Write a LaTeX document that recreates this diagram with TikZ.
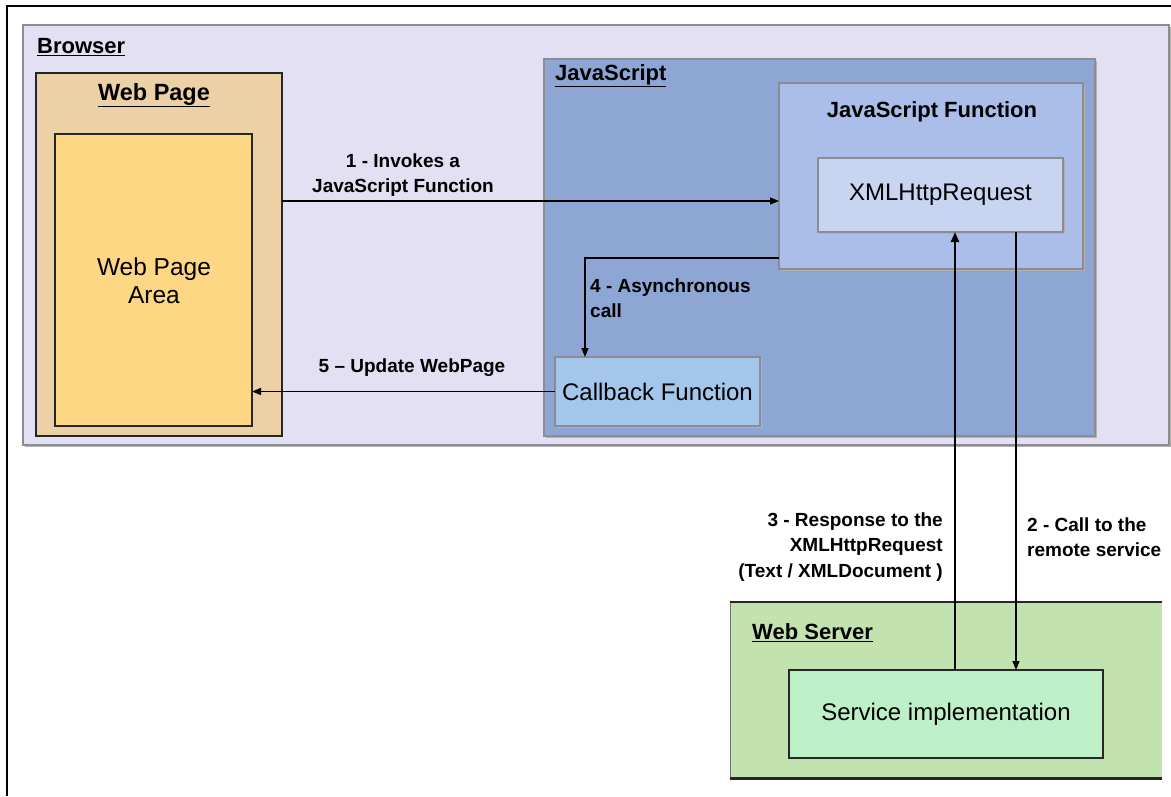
\documentclass[tikz,border=0pt]{standalone}
\usepackage{fontspec}
\setmainfont{Liberation Sans}
\usetikzlibrary{arrows.meta,shadows,calc}

\definecolor{browserfill}{RGB}{226,224,242}
\definecolor{pagefill}{RGB}{235,209,165}
\definecolor{areafill}{RGB}{253,215,131}
\definecolor{jsfill}{RGB}{141,166,211}
\definecolor{jsffill}{RGB}{171,190,233}
\definecolor{xhrfill}{RGB}{200,213,241}
\definecolor{cbfill}{RGB}{163,198,234}
\definecolor{srvfill}{RGB}{194,226,176}
\definecolor{implfill}{RGB}{189,240,198}
\definecolor{edgegray}{RGB}{140,140,150}

\tikzset{
  box/.style={rectangle, anchor=north west, inner sep=0pt, outer sep=0pt},
  softbox/.style={box, draw=edgegray, line width=1.3pt,
    drop shadow={shadow xshift=2pt, shadow yshift=-2pt, fill=black!30, opacity=1}},
  hardbox/.style={box, draw=black!85, line width=1.6pt},
  header/.style={anchor=west, inner sep=0pt, font=\fontsize{22}{26}\selectfont\bfseries},
  content/.style={font=\fontsize{24}{28}\selectfont},
  lbl/.style={inner sep=0pt, font=\fontsize{19}{25.5}\selectfont\bfseries},
  arr/.style={line width=1.2pt, -{Triangle[length=9pt,width=7pt]}},
  thickarr/.style={line width=2.2pt, -{Triangle[length=10pt,width=8pt]}}
}

\begin{document}
\begin{tikzpicture}[x=1pt, y=-1pt]
  \useasboundingbox (0,0) rectangle (1171,796);
  \fill[white] (0,0) rectangle (1171,796);

  % outer frame (continues past the right and bottom edges)
  \coordinate (frameTR) at (1171,6);
  \coordinate (frameTL) at (7,6);
  \coordinate (frameBL) at (7,796);
  \draw[line width=2pt] (frameTR) -- (frameTL) -- (frameBL);

  % browser container
  \node[softbox, fill=browserfill, minimum width=1146pt, minimum height=420pt] (browser) at (23,25) {};
  \node[header] (browserlbl) at (37,47) {\underline{Browser}};

  % web page
  \node[hardbox, fill=pagefill, minimum width=246pt, minimum height=363pt] (wp) at (36,73) {};
  \node[header, anchor=center, font=\fontsize{23.5}{28}\selectfont\bfseries] (wplbl) at (154,95) {\underline{Web Page}};
  \node[hardbox, fill=areafill, minimum width=197pt, minimum height=292pt] (wpa) at (55,134) {};
  \node[content, align=center, font=\fontsize{24.5}{28}\selectfont] (wpatext) at (154,281) {Web Page\\Area};

  % JavaScript container
  \node[softbox, fill=jsfill, minimum width=551pt, minimum height=377pt] (js) at (544,59) {};
  \node[header] (jslbl) at (555,76) {\underline{JavaScript}};

  % JavaScript function with the request object
  \node[softbox, fill=jsffill, minimum width=304pt, minimum height=186pt] (jsf) at (779,83) {};
  \node[header, anchor=center] (jsflbl) at (932,112) {JavaScript Function};
  \node[softbox, fill=xhrfill, minimum width=245pt, minimum height=74pt] (xhr) at (818,158) {};
  \node[content] (xhrtext) at (xhr.center) {XMLHttpRequest};

  % callback
  \node[softbox, fill=cbfill, minimum width=205pt, minimum height=69pt] (cb) at (555,357) {};
  \node[content] (cbtext) at (cb.center) {Callback Function};

  % web server
  \node[box, fill=srvfill, minimum width=432pt, minimum height=176pt] (srv) at (730,602) {};
  \draw[black!55, line width=1pt] (srv.south west) -- (srv.north west);
  \draw[black!85, line width=1.3pt] (srv.north west) -- (srv.north east);
  \draw[black!85, line width=3pt] (srv.south west) -- (srv.south east);
  \node[header] (srvlbl) at (752,633) {\underline{Web Server}};
  \node[box, fill=implfill, draw=black!85, line width=1.3pt, minimum width=314pt, minimum height=88pt] (impl) at (789,670) {};
  \node[content] (impltext) at (impl.center) {Service implementation};

  % helper coordinates for connector rows and columns
  \coordinate (row1) at (0,201);
  \coordinate (col2) at (1016,0);
  \coordinate (col3) at (955,0);
  \coordinate (col4) at (585,0);
  \coordinate (turn4) at ($(jsf.south west)+(0,-11)$);

  % 1 - invoke
  \draw[arr] (wp.east |- row1) -- (jsf.west |- row1);
  \node[lbl, align=center] (l1) at (403,175) {1 - Invokes a\\JavaScript Function};

  % 2 - call to the service
  \draw[arr] (xhr.south -| col2) -- (impl.north -| col2);
  \node[lbl, align=left, anchor=west] (l2) at (1027,537) {2 - Call to the\\remote service};

  % 3 - response
  \draw[thickarr] (impl.north -| col3) -- (xhr.south -| col3);
  \node[lbl, align=right, anchor=east] (l3) at (943,547) {3 - Response to the\\XMLHttpRequest\\(Text / XMLDocument )};

  % 4 - asynchronous call
  \draw[arr] (turn4) -| (cb.north -| col4);
  \node[lbl, align=left, anchor=west] (l4) at (590,298) {4 - Asynchronous\\call};

  % 5 - update the page
  \draw[arr] (cb.west) -- (wpa.east |- cb.west);
  \node[lbl] (l5) at (412,368) {5 – Update WebPage};
\end{tikzpicture}
\end{document}
